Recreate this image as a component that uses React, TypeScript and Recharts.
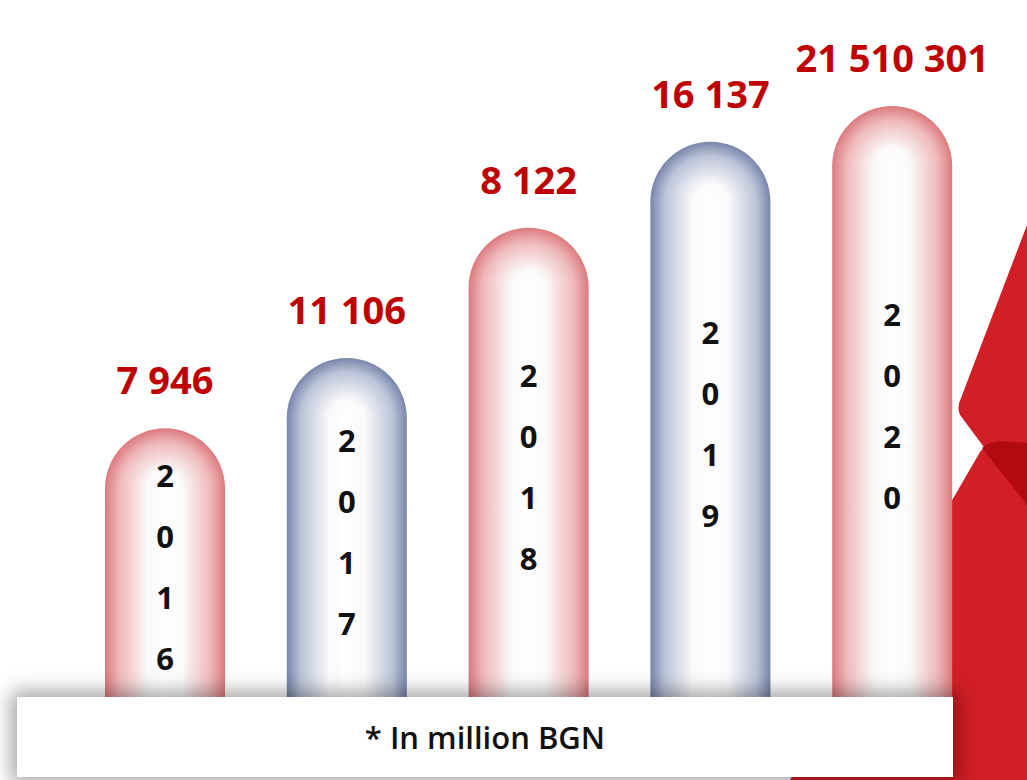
import { BarChart, Bar, XAxis, YAxis, LabelList } from "recharts"

// values shown above each pill (million BGN)
const years = ["2016", "2017", "2018", "2019", "2020"]
const amounts = [7946, 11106, 8122, 16137, 21510301]
// visual pill heights in the original slide (not proportional to the amounts)
const pillLevels = [4.5, 5.68, 7.86, 9.3, 9.9]
const tones = ["red", "blue", "red", "blue", "red"]

const data = years.map((year, i) => ({
  year,
  amount: amounts[i],
  level: pillLevels[i],
  tone: tones[i],
}))

const edgeColor: Record<string, string> = { red: "#dc7a7d", blue: "#7886ab" }
const midColor: Record<string, string> = { red: "#eeb8ba", blue: "#bcc4d8" }

const fmt = (v: number) => String(v).replace(/\B(?=(\d{3})+(?!\d))/g, " ")

function Pill(props: any) {
  const { x, y, width, height, payload, index } = props
  if (!height || height <= 0) return null
  const r = width / 2
  const cx = x + r
  const edge = edgeColor[payload.tone]
  const mid = midColor[payload.tone]
  return (
    <g>
      <defs>
        <linearGradient id={`body-${index}`} x1="0" y1="0" x2="1" y2="0">
          <stop offset="0" stopColor={edge} />
          <stop offset="0.12" stopColor={mid} />
          <stop offset="0.35" stopColor="#fbf9fa" />
          <stop offset="0.5" stopColor="#ffffff" />
          <stop offset="0.65" stopColor="#fbf9fa" />
          <stop offset="0.88" stopColor={mid} />
          <stop offset="1" stopColor={edge} />
        </linearGradient>
        <radialGradient id={`cap-${index}`} gradientUnits="userSpaceOnUse" cx={cx} cy={y + r} r={r}>
          <stop offset="0" stopColor="#ffffff" />
          <stop offset="0.3" stopColor="#fbf9fa" />
          <stop offset="0.76" stopColor={mid} />
          <stop offset="1" stopColor={edge} />
        </radialGradient>
      </defs>
      <rect x={x} y={y + r} width={width} height={height - r} fill={`url(#body-${index})`} />
      <path
        d={`M ${x} ${y + r + 1} L ${x} ${y + r} A ${r} ${r} 0 0 1 ${x + width} ${y + r} L ${x + width} ${y + r + 1} Z`}
        fill={`url(#cap-${index})`}
      />
    </g>
  )
}

function AmountLabel(props: any) {
  const { x, y, width, value } = props
  return (
    <text
      x={x + width / 2}
      y={y - 34}
      textAnchor="middle"
      fill="#c00000"
      fontFamily="'Open Sans', sans-serif"
      fontWeight={700}
      fontSize={38}
    >
      {fmt(value)}
    </text>
  )
}

function YearLabel(props: any) {
  const { x, y, width, height, value } = props
  const centre = y + height / 2 + 4
  const digits = String(value).split("")
  return (
    <g>
      {digits.map((d, k) => (
        <text
          key={k}
          x={x + width / 2}
          y={centre + (k - 1.5) * 61}
          textAnchor="middle"
          dominantBaseline="central"
          fill="#111"
          fontFamily="'Open Sans', sans-serif"
          fontWeight={700}
          fontSize={31}
        >
          {d}
        </text>
      ))}
    </g>
  )
}

export default function App() {
  return (
    <div style={{ position: "absolute", left: 0, top: 0, width: 1027, height: 780, overflow: "hidden", background: "#fff" }}>
      {/* red decoration on the right of the slide */}
      <svg width={1027} height={780} style={{ position: "absolute", left: 0, top: 0 }}>
        <path d="M 1027 225 L 961 398 Q 955 410 963 419 L 1027 505 Z" fill="#d21f26" />
        <path d="M 790 780 L 980 452 Q 986 443 998 442 L 1027 441 L 1027 780 Z" fill="#d21f26" />
        <path d="M 982 448 Q 990 441 1003 441 L 1027 443 L 1027 505 Z" fill="#b30a10" />
      </svg>

      <div style={{ position: "absolute", left: 0, top: 0 }}>
        <BarChart width={1027} height={780} data={data} margin={{ top: 100, right: 44, left: 74, bottom: 83 }}>
          <XAxis dataKey="year" hide />
          <YAxis hide domain={[0, 10]} />
          <Bar dataKey="level" barSize={120} shape={<Pill />} isAnimationActive={false}>
            <LabelList dataKey="amount" content={<AmountLabel />} />
            <LabelList dataKey="year" content={<YearLabel />} />
          </Bar>
        </BarChart>
      </div>

      <div
        style={{
          position: "absolute",
          left: 17,
          top: 697,
          width: 936,
          height: 80,
          background: "#fff",
          boxShadow: "0 0 18px 6px rgba(0,0,0,0.35)",
          display: "flex",
          alignItems: "center",
          justifyContent: "center",
          fontFamily: "'Open Sans', sans-serif",
          fontWeight: 600,
          fontSize: 31,
          color: "#111",
        }}
      >
        * In million BGN
      </div>
    </div>
  )
}
